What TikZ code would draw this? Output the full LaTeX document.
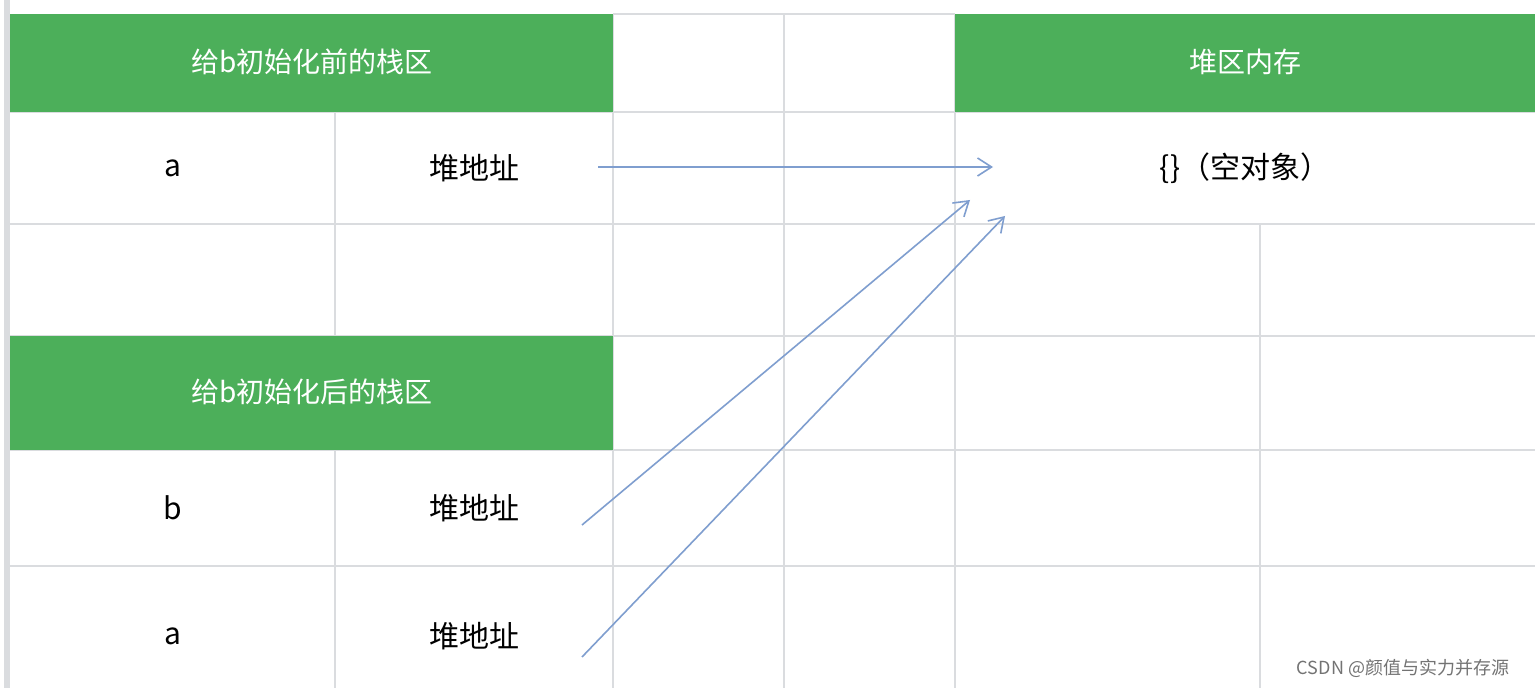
\documentclass[tikz,border=0pt]{standalone}
\usepackage{fontspec}
\setmainfont{Noto Sans CJK SC}
\usetikzlibrary{arrows.meta}
\definecolor{hdr}{HTML}{4CAF5A}
\definecolor{grid}{HTML}{DADCDF}
\definecolor{arr}{HTML}{7F9ECF}
\begin{document}
\begin{tikzpicture}[x=0.5pt,y=-0.5pt,
  cell/.style={font=\fontsize{15}{18}\selectfont, text=black},
  head/.style={font=\fontsize{14}{17}\selectfont, text=white},
  ptr/.style={draw=arr, line width=0.8pt, -{Straight Barb[length=7pt,width=9pt]}}]
\useasboundingbox (0,0) rectangle (1535,688);
\fill[white] (0,0) rectangle (1535,688);
% grid
\begin{scope}[draw=grid, line width=1pt]
\draw (613,14) -- (955,14);
\foreach \y in {112,224,336,450,566} \draw (10,\y) -- (1535,\y);
\draw (335,112) -- (335,688);
\draw (613,14) -- (613,688);
\draw (784,14) -- (784,688);
\draw (955,14) -- (955,688);
\draw (1260,224) -- (1260,688);
\end{scope}
\fill[grid] (4,0) rectangle (10,688);
% headers
\fill[hdr] (10,14) rectangle (613,112);
\fill[hdr] (955,14) rectangle (1535,112);
\fill[hdr] (10,336) rectangle (613,450);
\node[head] (h1) at (312,62) {给b初始化前的栈区};
\node[head] (h2) at (1245,62) {堆区内存};
\node[head] (h3) at (312,392) {给b初始化后的栈区};
% cells
\node[cell] (a1) at (173,168) {a};
\node[cell] (p1) at (474,168) {堆地址};
\node[cell] (obj) at (1245,168) {\{\}（空对象）};
\node[cell] (b2) at (173,508) {b};
\node[cell] (p2) at (474,508) {堆地址};
\node[cell] (a3) at (173,636) {a};
\node[cell] (p3) at (474,636) {堆地址};
% arrows
\coordinate (s1) at (598,167); \coordinate (e1) at (993,167);
\coordinate (s2) at (582,525); \coordinate (e2) at (970,200);
\coordinate (s3) at (582,657); \coordinate (e3) at (1005,216);
\draw[ptr] (s1) -- (e1);
\draw[ptr] (s2) -- (e2);
\draw[ptr] (s3) -- (e3);
\node[text=gray!90!black, font=\fontsize{9}{11}\selectfont] (wm) at (1403,668) {CSDN @颜值与实力并存源};
\end{tikzpicture}
\end{document}
